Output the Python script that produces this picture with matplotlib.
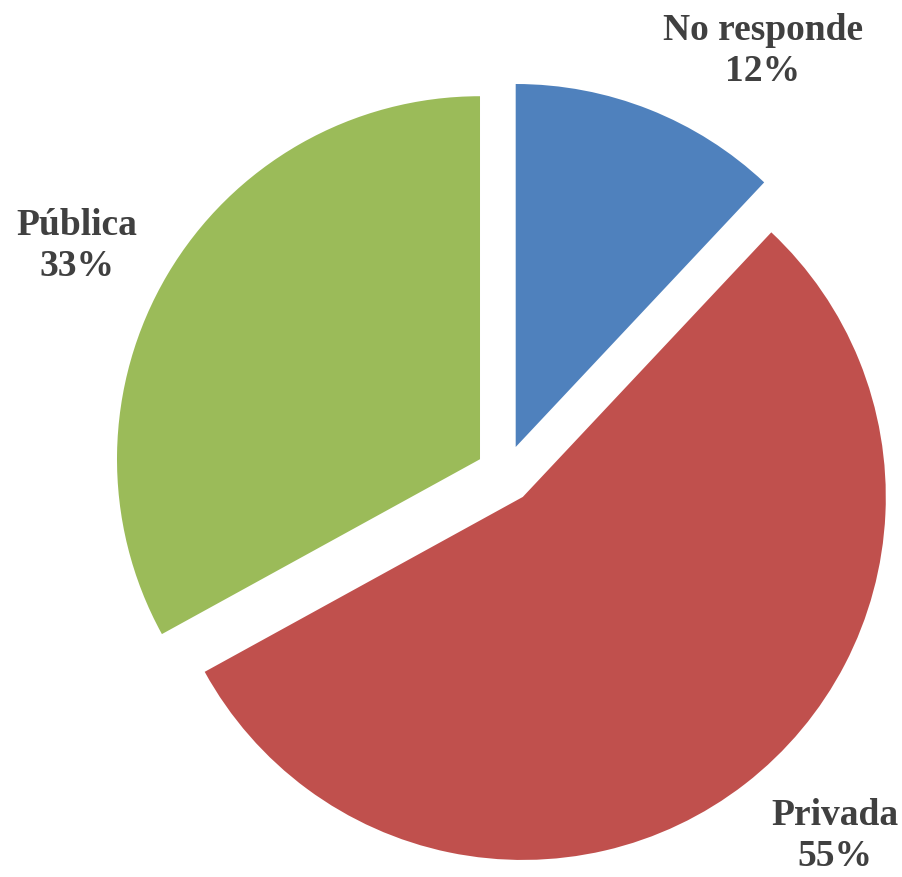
# Pie chart: type of institution (No responde / Privada / Pública)
import matplotlib
matplotlib.use('Agg')
import matplotlib.pyplot as plt

# Data
categories = ['No responde', 'Privada', 'Pública']
shares = [12, 55, 33]
colors = ['#4F81BD', '#C0504D', '#9BBB59']

# Label positions in figure pixels (x, y from top)
label_pos = [(763, 51), (835, 836), (77, 246)]

W, H = 903, 877
cx, cy, R = 505, 474, 363   # pie centre and radius in pixels

fig = plt.figure(figsize=(W / 100, H / 100), dpi=100)
ax = fig.add_axes([0, 0, 1, 1])

ax.pie(shares, colors=colors, startangle=90, counterclock=False,
       explode=[0.08] * len(shares), radius=1,
       wedgeprops=dict(linewidth=0))

# map pixels to data units (radius = 1)
ax.set_xlim(-cx / R, (W - cx) / R)
ax.set_ylim(-(H - cy) / R, cy / R)
ax.set_aspect('equal')
ax.axis('off')

for name, val, (px, py) in zip(categories, shares, label_pos):
    fig.text(px / W, 1 - py / H, f'{name}\n{val}%', ha='center', va='center',
             fontsize=27, fontweight='bold', family='Liberation Serif',
             color='#404040', linespacing=1.22)

plt.savefig('out.png', dpi=100)
